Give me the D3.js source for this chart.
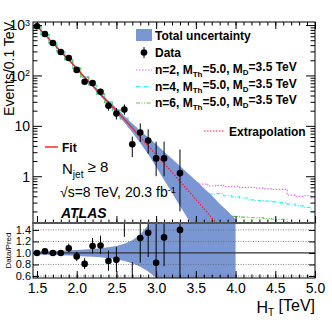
<!DOCTYPE html>
<html>
<head>
<meta charset="utf-8">
<script src="https://cdn.jsdelivr.net/npm/d3@7"></script>
<style>
  body { margin: 0; background: #fff; }
  text { font-family: "Liberation Sans", Arial, sans-serif; }
</style>
</head>
<body>
<div id="chart"></div>
<script>
// ---- data ----
// data points (upper panel), H_T in TeV, events / 0.1 TeV
var dataHT  = [1.5, 1.6, 1.7, 1.8, 1.9, 2.0, 2.1, 2.2, 2.3, 2.4, 2.5, 2.6, 2.7, 2.8, 2.9, 3.0, 3.1, 3.3];
var dataVal = [950, 663, 440, 292, 222, 129, 75, 71, 47.5, 25, 17.5, 21, 4.3, 7.4, 5.1, 2.26, 2.26, 1.15];
var dataLo  = [31, 26, 21, 17, 15, 11, 8.7, 8.4, 6.9, 5, 4.1, 4.5, 1.9, 2.6, 2.3, 1.26, 1.26, 0.95];
var dataHi  = [31, 26, 21, 17, 15, 11, 8.7, 8.4, 6.9, 5, 5.2, 5.6, 1.8, 3.8, 3.4, 2.6, 2.6, 2.25];

// ratio panel points
var ratioHT  = [1.5, 1.6, 1.7, 1.8, 1.9, 2.0, 2.1, 2.2, 2.3, 2.4, 2.5, 2.6, 2.7, 2.8, 2.9, 3.0, 3.1, 3.3];
var ratioVal = [1.00, 1.03, 1.00, 1.00, 1.08, 0.94, 0.81, 1.12, 1.13, 0.86, 0.88, 1.6, 0.48, 1.26, 1.35, 0.83, 1.27, 1.4];
var ratioLo  = [0.03, 0.03, 0.03, 0.04, 0.07, 0.08, 0.09, 0.13, 0.15, 0.17, 0.21, 0.32, 0.2, 0.43, 0.42, 0.5, 0.5, 1.2];
var ratioHi  = [0.03, 0.03, 0.03, 0.04, 0.08, 0.08, 0.10, 0.14, 0.17, 0.18, 0.22, 0.4, 0.36, 0.6, 0.65, 1.0, 1.5, 3.0];

// fit (background prediction) at bin centres 1.5 .. 4.0
var fitHT  = [1.5, 1.6, 1.7, 1.8, 1.9, 2.0, 2.1, 2.2, 2.3, 2.4, 2.5, 2.6, 2.7, 2.8, 2.9, 3.0, 3.1, 3.2, 3.3, 3.4, 3.5, 3.6, 3.7, 3.8, 3.9, 4.0];
var fitVal = [950, 645, 440, 295, 205, 139, 92, 63, 42, 29, 20, 13.5, 9.1, 6.0, 4.0, 2.7, 1.8, 1.2, 0.8, 0.53, 0.35, 0.23, 0.15, 0.095, 0.062, 0.04];
// total uncertainty as up / down factors on the fit
var uncUp = [1.03, 1.03, 1.035, 1.04, 1.045, 1.05, 1.06, 1.07, 1.08, 1.10, 1.12, 1.16, 1.22, 1.32, 1.48, 1.6, 1.7, 1.85, 2.0, 2.15, 2.35, 2.55, 2.75, 3.0, 3.25, 3.5];
var uncDn = [0.97, 0.97, 0.965, 0.96, 0.955, 0.95, 0.94, 0.935, 0.925, 0.91, 0.89, 0.86, 0.82, 0.76, 0.68, 0.57, 0.47, 0.39, 0.32, 0.27, 0.23, 0.2, 0.2, 0.2, 0.2, 0.2];
var fitEnd = 2.8;   // solid fit up to here, extrapolation after

// signal + background histograms, bins centred at 1.5 .. 5.0
var sigHT = d3.range(1.5, 5.04, 0.1);
var sigN2 = [955, 650, 445, 298, 208, 141, 94, 64, 43, 30, 21, 14.2, 9.6, 6.4, 4.3, 2.95, 2.0, 1.45, 1.1, 0.88, 0.74, 0.7, 0.64, 0.66, 0.62, 0.63, 0.6, 0.6, 0.58, 0.56, 0.55, 0.55, 0.42, 0.4, 0.41, 0.37];
var sigN4 = [955, 648, 443, 297, 207, 140, 93, 64, 43, 29.5, 20.5, 14, 9.4, 6.2, 4.2, 2.85, 1.9, 1.3, 0.95, 0.7, 0.5, 0.46, 0.44, 0.45, 0.41, 0.39, 0.37, 0.34, 0.33, 0.32, 0.31, 0.3, 0.28, 0.26, 0.24, 0.2];
var sigN6 = [952, 646, 441, 296, 206, 139.5, 92.5, 63.5, 42.5, 29.2, 20.2, 13.7, 9.2, 6.1, 4.1, 2.75, 1.85, 1.25, 0.86, 0.6, 0.42, 0.3, 0.22, 0.18, 0.165, 0.16, 0.155, 0.15, 0.15, 0.145, 0.14, 0.14, 0.1, 0.09, 0.08, 0.07];

var xTicks = [1.5, 2.0, 2.5, 3.0, 3.5, 4.0, 4.5, 5.0];
var ratioTicks = [0.6, 0.8, 1.0, 1.2, 1.4];

// ---- layout ----
var W = 332, H = 320;
var L = 33, R = 315, T = 22, M = 223, B = 278;
var bandColor = "#7b97d3";

var svg = d3.select("#chart").append("svg")
    .attr("width", W).attr("height", H);

var x = d3.scaleLinear().domain([1.45, 5.0]).range([L, R]);
var y = d3.scaleLog().domain([0.118, 1150]).range([M, T]);
var yr = d3.scaleLinear().domain([0.565, 1.52]).range([B, M]);

var defs = svg.append("defs");
defs.append("clipPath").attr("id", "clipTop")
  .append("rect").attr("x", L).attr("y", T).attr("width", R - L).attr("height", M - T);
defs.append("clipPath").attr("id", "clipRat")
  .append("rect").attr("x", L).attr("y", M).attr("width", R - L).attr("height", B - M);

var upper = svg.append("g").attr("clip-path", "url(#clipTop)");
var rat = svg.append("g").attr("clip-path", "url(#clipRat)");

// signal histograms (drawn as steps)
function stepPts(vals) {
  var pts = sigHT.map(function(h, i) { return [h - 0.05, vals[i]]; });
  pts.push([sigHT[sigHT.length - 1] + 0.05, vals[vals.length - 1]]);
  return pts;
}
var stepLine = d3.line()
    .x(function(d) { return x(d[0]); })
    .y(function(d) { return y(d[1]); })
    .curve(d3.curveStepAfter);

var sigs = [
  {vals: sigN2, color: "#f06cf0", dash: "1.5,1.5"},
  {vals: sigN4, color: "#3cf0f0", dash: "4,1.5,1,1.5"},
  {vals: sigN6, color: "#5ccc3c", dash: "4,1.5,1,1.5,1,1.5"}
];
sigs.forEach(function(s) {
  upper.append("path")
    .attr("d", stepLine(stepPts(s.vals)))
    .attr("fill", "none")
    .attr("stroke", s.color)
    .attr("stroke-width", 1.2)
    .attr("stroke-dasharray", s.dash);
});

// uncertainty band, upper panel
var bandTop = d3.area()
    .x(function(d, i) { return x(fitHT[i]); })
    .y0(function(d, i) { return y(fitVal[i] * uncDn[i]); })
    .y1(function(d, i) { return y(fitVal[i] * uncUp[i]); });
upper.append("path")
  .attr("d", bandTop(fitHT))
  .attr("fill", bandColor);

// fit line, solid then dotted extrapolation
var fitPts = fitHT.map(function(h, i) { return [h, fitVal[i]]; });
var fitLine = d3.line()
    .x(function(d) { return x(d[0]); })
    .y(function(d) { return y(d[1]); });
upper.append("path")
  .attr("d", fitLine(fitPts.filter(function(d) { return d[0] <= fitEnd; })))
  .attr("fill", "none").attr("stroke", "#ee2222").attr("stroke-width", 1.2);
upper.append("path")
  .attr("d", fitLine(fitPts.filter(function(d) { return d[0] >= fitEnd; })))
  .attr("fill", "none").attr("stroke", "#ee2222").attr("stroke-width", 1.2)
  .attr("stroke-dasharray", "1.5,1.5");

// data points
upper.selectAll(".ebar").data(dataHT).enter().append("line")
  .attr("x1", function(d) { return x(d); })
  .attr("x2", function(d) { return x(d); })
  .attr("y1", function(d, i) { return y(Math.max(dataVal[i] - dataLo[i], 0.01)); })
  .attr("y2", function(d, i) { return y(dataVal[i] + dataHi[i]); })
  .attr("stroke", "#000").attr("stroke-width", 1);
upper.selectAll(".dot").data(dataHT).enter().append("circle")
  .attr("cx", function(d) { return x(d); })
  .attr("cy", function(d, i) { return y(dataVal[i]); })
  .attr("r", 3.3).attr("fill", "#000");

// ratio band
var bandRat = d3.area()
    .x(function(d, i) { return x(fitHT[i]); })
    .y0(function(d, i) { return yr(uncDn[i]); })
    .y1(function(d, i) { return yr(uncUp[i]); });
rat.append("path").attr("d", bandRat(fitHT)).attr("fill", bandColor);

// ratio grid
ratioTicks.forEach(function(t) {
  rat.append("line")
    .attr("x1", L).attr("x2", R).attr("y1", yr(t)).attr("y2", yr(t))
    .attr("stroke", t === 1.0 ? "#333" : "#666")
    .attr("stroke-width", t === 1.0 ? 1.3 : 0.8)
    .attr("stroke-dasharray", t === 1.0 ? null : "1,1.5");
});

rat.selectAll(".rbar").data(ratioHT).enter().append("line")
  .attr("x1", function(d) { return x(d); })
  .attr("x2", function(d) { return x(d); })
  .attr("y1", function(d, i) { return yr(ratioVal[i] - ratioLo[i]); })
  .attr("y2", function(d, i) { return yr(ratioVal[i] + ratioHi[i]); })
  .attr("stroke", "#000").attr("stroke-width", 1);
rat.selectAll(".rdot").data(ratioHT).enter().append("circle")
  .attr("cx", function(d) { return x(d); })
  .attr("cy", function(d, i) { return yr(ratioVal[i]); })
  .attr("r", 3.3).attr("fill", "#000");

// ---- axes ----
var xMinor = d3.range(1.5, 5.001, 0.1);
function noDomain(g) { g.select(".domain").remove(); }

function xAxisAt(yPos, dir, withLabels) {
  var mk = dir === "down" ? d3.axisTop : d3.axisBottom;
  svg.append("g").attr("transform", "translate(0," + yPos + ")")
    .call(mk(x).tickValues(xMinor).tickSize(-3.5).tickFormat(""))
    .call(noDomain);
  var g = svg.append("g").attr("transform", "translate(0," + yPos + ")")
    .call(mk(x).tickValues(xTicks).tickSize(-7).tickPadding(5)
      .tickFormat(withLabels ? d3.format(".1f") : ""))
    .call(noDomain);
  g.selectAll("text").style("font-size", "14px").attr("fill", "#000");
}
xAxisAt(T, "down", false);
xAxisAt(M, "up", false);
xAxisAt(B, "up", true);

// log axis
var yMajor = [1, 10, 100, 1000];
var yMinor = [];
[0.1, 1, 10, 100, 1000].forEach(function(p) {
  for (var k = 2; k <= 9; k++) {
    if (p * k > 0.118 && p * k < 1150) yMinor.push(p * k);
  }
});
svg.append("g").attr("transform", "translate(" + L + ",0)")
  .call(d3.axisLeft(y).tickValues(yMinor).tickSize(-4.5).tickFormat(""))
  .call(noDomain);
svg.append("g").attr("transform", "translate(" + R + ",0)")
  .call(d3.axisRight(y).tickValues(yMinor).tickSize(-4.5).tickFormat(""))
  .call(noDomain);
svg.append("g").attr("transform", "translate(" + R + ",0)")
  .call(d3.axisRight(y).tickValues(yMajor).tickSize(-9).tickFormat(""))
  .call(noDomain);
var yAx = svg.append("g").attr("transform", "translate(" + L + ",0)")
  .call(d3.axisLeft(y).tickValues(yMajor).tickSize(-9).tickPadding(3).tickFormat(""))
  .call(noDomain);
yAx.selectAll(".tick").each(function(d) {
  var t = d3.select(this).append("text")
    .attr("x", -3).attr("dy", "0.35em")
    .attr("text-anchor", "end")
    .attr("fill", "#000")
    .style("font-size", "14px");
  var e = Math.round(Math.log10(d));
  if (e === 0) t.text("1");
  else if (e === 1) t.text("10");
  else {
    t.append("tspan").text("10");
    t.append("tspan").attr("dy", "-0.55em").style("font-size", "9px").text(e);
  }
});

// ratio axis
var rAx = svg.append("g").attr("transform", "translate(" + L + ",0)")
  .call(d3.axisLeft(yr).tickValues(ratioTicks).tickSize(-6).tickPadding(2)
    .tickFormat(d3.format(".1f")))
  .call(noDomain);
rAx.selectAll("text").style("font-size", "11px").attr("fill", "#000");
svg.append("g").attr("transform", "translate(" + R + ",0)")
  .call(d3.axisRight(yr).tickValues(ratioTicks).tickSize(-6).tickFormat(""))
  .call(noDomain);

// frames
svg.append("rect").attr("x", L).attr("y", T).attr("width", R - L).attr("height", M - T)
  .attr("fill", "none").attr("stroke", "#000").attr("stroke-width", 1);
svg.append("rect").attr("x", L).attr("y", M).attr("width", R - L).attr("height", B - M)
  .attr("fill", "none").attr("stroke", "#000").attr("stroke-width", 1);
svg.append("line").attr("x1", L).attr("x2", R).attr("y1", M).attr("y2", M)
  .attr("stroke", "#555").attr("stroke-width", 2);

// axis titles
svg.append("text")
  .attr("transform", "translate(14," + T + ") rotate(-90)")
  .attr("text-anchor", "end")
  .style("font-size", "14px")
  .text("Events/0.1 TeV");
svg.append("text")
  .attr("transform", "translate(10.5," + ((M + B) / 2) + ") rotate(-90)")
  .attr("text-anchor", "middle")
  .style("font-size", "8px")
  .text("Data/Pred");
var xt = svg.append("text")
  .attr("x", R).attr("y", 313)
  .attr("text-anchor", "end")
  .style("font-size", "16px");
xt.append("tspan").text("H");
xt.append("tspan").attr("dy", "0.3em").style("font-size", "10px").text("T");
xt.append("tspan").attr("dy", "-0.3em").text(" [TeV]");

// ---- legend ----
var leg = svg.append("g").style("font-size", "12px").style("font-weight", "bold");
leg.append("rect").attr("x", 136).attr("y", 29).attr("width", 16).attr("height", 12)
  .attr("fill", bandColor);
leg.append("text").attr("x", 155).attr("y", 39.5).text("Total uncertainty");

leg.append("line").attr("x1", 144).attr("x2", 144).attr("y1", 47).attr("y2", 58)
  .attr("stroke", "#000");
leg.append("circle").attr("cx", 144).attr("cy", 52.5).attr("r", 3.3).attr("fill", "#000");
leg.append("text").attr("x", 155).attr("y", 57).text("Data");

var sigLabels = ["n=2", "n=4", "n=6"];
sigs.forEach(function(s, i) {
  var yy = 70 + i * 16.5;
  leg.append("line").attr("x1", 136).attr("x2", 152).attr("y1", yy).attr("y2", yy)
    .attr("stroke", s.color).attr("stroke-width", 1.2).attr("stroke-dasharray", s.dash);
  var t = leg.append("text").attr("x", 155).attr("y", yy + 4);
  t.append("tspan").text(sigLabels[i] + ", M");
  t.append("tspan").attr("dy", "0.35em").style("font-size", "8px").text("Th");
  t.append("tspan").attr("dy", "-0.35em").text("=5.0, M");
  t.append("tspan").attr("dy", "0.35em").style("font-size", "8px").text("D");
  t.append("tspan").attr("dy", "-0.35em").text("=3.5 TeV");
});

leg.append("line").attr("x1", 204).attr("x2", 225).attr("y1", 131).attr("y2", 131)
  .attr("stroke", "#ee2222").attr("stroke-width", 1.2).attr("stroke-dasharray", "1.5,1.5");
leg.append("text").attr("x", 229).attr("y", 135.5).text("Extrapolation");

leg.append("line").attr("x1", 45).attr("x2", 58).attr("y1", 147).attr("y2", 147)
  .attr("stroke", "#ee2222").attr("stroke-width", 1.4);
leg.append("text").attr("x", 62).attr("y", 151.5).text("Fit");

// labels
var nj = svg.append("text").attr("x", 62).attr("y", 174).style("font-size", "15px");
nj.append("tspan").text("N");
nj.append("tspan").attr("dy", "0.35em").style("font-size", "10px").text("jet");
nj.append("tspan").attr("dy", "-0.35em").text(" \u2265 8");

var rs = svg.append("text").attr("x", 60).attr("y", 197).style("font-size", "14px");
rs.append("tspan").text("\u221As=8 TeV, 20.3 fb");
rs.append("tspan").attr("dy", "-0.5em").style("font-size", "9px").text("-1");

svg.append("text").attr("x", 61).attr("y", 218)
  .style("font-size", "14px").style("font-weight", "bold").style("font-style", "italic")
  .text("ATLAS");
</script>
</body>
</html>
